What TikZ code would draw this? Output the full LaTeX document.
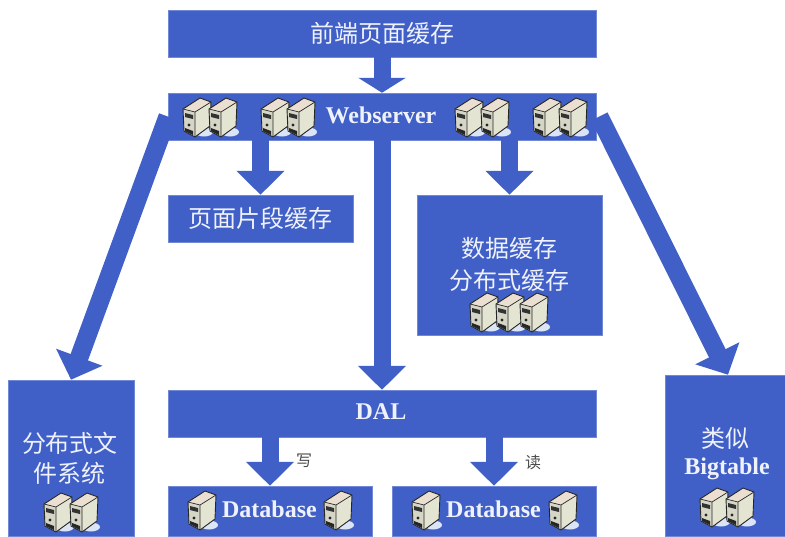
\documentclass[tikz,border=0pt]{standalone}
\usepackage{xcolor}
\usepackage{fontspec}
\setmainfont{Liberation Serif}
\newfontfamily\cjk{Noto Sans CJK SC}
\usetikzlibrary{arrows.meta, positioning}
\definecolor{boxblue}{HTML}{4060C8}
\definecolor{caseside}{HTML}{E4E4D2}
\definecolor{casefront}{HTML}{D6D6C6}
\definecolor{casetop}{HTML}{EADFD0}
\definecolor{caseshadow}{HTML}{DCE5F5}
\tikzset{
  bluebox/.style={fill=boxblue, draw=boxblue!75!white, line width=0.5pt, inner sep=0pt},
  cjklabel/.style={text=white!92!boxblue, font=\cjk\fontsize{24}{30}\selectfont, align=center, inner sep=0pt},
  latinlabel/.style={text=white!92!boxblue, font=\bfseries\fontsize{24}{28}\selectfont, inner sep=0pt},
  notelabel/.style={text=black!70, font=\cjk\fontsize{16}{18}\selectfont, inner sep=0pt},
  blockarrow/.style={draw=boxblue, line width=17pt, -{Triangle[width=47pt,length=24pt]}},
  shortarrow/.style={draw=boxblue, line width=17pt, -{Triangle[width=47pt,length=15pt]}},
  slantarrow/.style={draw=boxblue, line width=18.5pt, -{Triangle[width=48pt,length=24pt]}},
  server/.pic={
    \fill[caseshadow] (7,14) ellipse (9 and 4.5);
    \fill[casetop] (-14,-9) -- (3,-20) -- (14,-16) -- (-2,-6) -- cycle;
    \fill[caseside] (-2,-6) -- (14,-16) -- (13,8) -- (-2,19) -- cycle;
    \fill[casefront] (-14,-9) -- (-2,-6) -- (-2,19) -- (-13,13) -- cycle;
    % drive bays and button
    \fill[black!80] (-12,-5) -- (-4,-3) -- (-4,1) -- (-12,-1) -- cycle;
    \fill[black!85] (-8,7) circle (1.6);
    \fill[black!85] (-12,10) -- (-4,13) -- (-4,17) -- (-12,13) -- cycle;
    \draw[black!85, line width=0.9pt, line join=round] (-14,-9) -- (3,-20) -- (14,-16) -- (13,8) -- (-2,19) -- (-13,13) -- cycle;
    \draw[black!85, line width=0.7pt] (-14,-9) -- (-2,-6) -- (14,-16) (-2,-6) -- (-2,19);
  }
}
\begin{document}
\begin{tikzpicture}[x=1pt, y=-1pt]
\useasboundingbox (0,0) rectangle (785,536);

% Boxes
\node[bluebox, minimum width=428pt, minimum height=47pt] (front) at (382,33.5) {};
\node[bluebox, minimum width=428pt, minimum height=47pt] (web) at (382,116.5) {};
\node[bluebox, minimum width=185pt, minimum height=47pt] (pagecache) at (260.5,218.5) {};
\node[bluebox, minimum width=185pt, minimum height=140pt] (datacache) at (509.5,265) {};
\node[bluebox, minimum width=428pt, minimum height=47pt] (dal) at (382,413.5) {};
\node[bluebox, minimum width=204pt, minimum height=50pt] (dbwrite) at (270,511) {};
\node[bluebox, minimum width=204pt, minimum height=50pt] (dbread) at (494,511) {};
\node[bluebox, minimum width=126pt, minimum height=156pt] (dfs) at (71,458) {};
\node[bluebox, minimum width=120pt, minimum height=161pt] (bigtable) at (725,455.5) {};

% Arrows
\draw[shortarrow] (front) -- (web);
\draw[blockarrow] (web.south -| pagecache.north) -- (pagecache.north);
\draw[blockarrow] (web.south -| datacache.north) -- (datacache.north);
\draw[blockarrow] (web) -- (dal);
\draw[blockarrow] (dal.south -| dbwrite.north) -- (dbwrite.north);
\draw[blockarrow] (dal.south -| dbread.north) -- (dbread.north);
\draw[slantarrow] (web.west) -- (dfs.north);
\draw[slantarrow] ([xshift=3pt]web.east) -- ([xshift=3pt]bigtable.north);

% Texts
\node[cjklabel] (frontlabel) at (382,33) {前端页面缓存};
\node[latinlabel] (weblabel) at (381,115) {Webserver};
\node[cjklabel] (pagelabel) at (260,218) {页面片段缓存};
\node[cjklabel] (datalabel) at (509,264) {数据缓存\\[2pt]分布式缓存};
\node[latinlabel] (dallabel) at (381,412) {DAL};
\node[latinlabel] (dbwritelabel) at (269.5,509) {Database};
\node[latinlabel] (dbreadlabel) at (493.5,509) {Database};
\node[cjklabel] (dfslabel) at (70,458) {分布式文\\件系统};
\node[cjklabel] (bigtablelabel) at (725,438) {类似};
\node[latinlabel] (bigtablename) at (727,469) {Bigtable};
\node[notelabel] (writenote) at (304,461) {写};
\node[notelabel] (readnote) at (533,462) {读};

% Servers
\foreach \x in {197,223,275,301,469,495,547,573} {
    \pic at (\x,118) {server};
}
\foreach \x in {484,510,534} {
    \pic at (\x,313) {server};
}
\foreach \x in {202,338,426,563} {
    \pic at (\x,511) {server};
}
\foreach \x in {58,84} {
    \pic at (\x,513) {server};
}
\foreach \x in {714,740} {
    \pic at (\x,508) {server};
}
\end{tikzpicture}
\end{document}
